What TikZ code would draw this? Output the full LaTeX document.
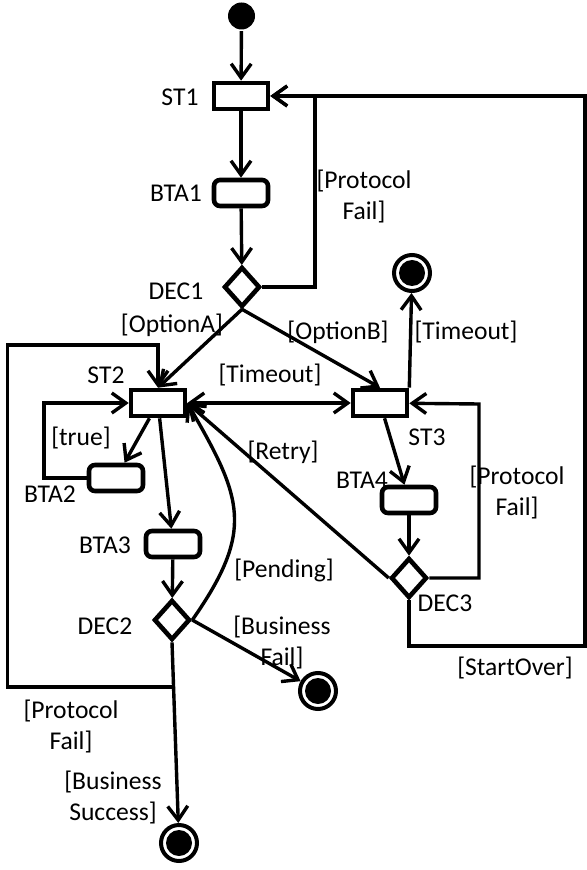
\documentclass[tikz,border=0pt]{standalone}
\usepackage{fontspec}
\setmainfont{Carlito}
\usetikzlibrary{arrows.meta,shapes.geometric}

\begin{document}
\begin{tikzpicture}[x=0.5pt, y=-0.5pt, line width=1.7pt, >={Straight Barb[length=7pt,width=10pt]},
 every node/.style={font=\fontsize{12.8}{15.5}\selectfont, align=center, inner sep=0pt},
 act/.style={draw, line width=2.3pt, minimum width=27pt, minimum height=13pt},
 bta/.style={act, rounded corners=3pt},
 dec/.style={draw, diamond, line width=2.3pt, minimum width=18pt, minimum height=20pt},
 start/.style={circle, fill, minimum size=13.5pt},
 final/.style={circle, draw, line width=2pt, minimum size=18pt,
   path picture={\fill (path picture bounding box.center) circle (6.5pt);}}]
 \useasboundingbox (0,0) rectangle (587,870);
 % states
 \node[start] (init) at (241.5,16) {};
 \node[act] (st1) at (241,96) {};
 \node[bta] (bta1) at (241,193) {};
 \node[dec] (dec1) at (242,287) {};
 \node[act] (st2) at (158,403) {};
 \node[act] (st3) at (380,403) {};
 \node[bta] (bta2) at (116,478) {};
 \node[bta] (bta3) at (173,544) {};
 \node[bta] (bta4) at (409,500) {};
 \node[dec] (dec2) at (172,620) {};
 \node[dec] (dec3) at (409,578) {};
 \node[final] (endT) at (412,273) {};
 \node[final] (endF) at (318,691) {};
 \node[final] (endS) at (179,843) {};
 % names
 \node (lst1) at (180,97) {ST1};
 \node (lbta1) at (176,193) {BTA1};
 \node (ldec1) at (176,291) {DEC1};
 \node (lst2) at (106,375) {ST2};
 \node (lst3) at (427,437) {ST3};
 \node (lbta2) at (50,494) {BTA2};
 \node (lbta3) at (105,545) {BTA3};
 \node (lbta4) at (362,480) {BTA4};
 \node (ldec2) at (105,626) {DEC2};
 \node (ldec3) at (445,603) {DEC3};
 % guards
 \node (gpf1) at (364,196) {[Protocol\\Fail]};
 \node (gopta) at (172,325) {[OptionA]};
 \node (goptb) at (338,332) {[OptionB]};
 \node (gto1) at (466,332) {[Timeout]};
 \node (gto2) at (270,375) {[Timeout]};
 \node (gtrue) at (81,438) {[true]};
 \node (gretry) at (283,452) {[Retry]};
 \node (gpf3) at (517,492) {[Protocol\\Fail]};
 \node (gpend) at (284,570) {[Pending]};
 \node (gbf) at (282,642) {[Business\\Fail]};
 \node (gso) at (515,668) {[StartOver]};
 \node (gpf2) at (71,726) {[Protocol\\Fail]};
 \node (gbs) at (113,797) {[Business\\Success]};
 % transitions
 \draw[->] (init) -- (st1);
 \draw[->] (st1) -- (bta1);
 \draw[->] (bta1) -- (dec1);
 \coordinate (c1) at (315,96);
 \draw[->] (dec1.east) -| (c1) -- (st1);
 \coordinate (c2) at (585,646);
 \draw[->] (dec3.south) |- (c2) |- (st1);
 \draw[->] (dec1.south) -- (st2.north);
 \draw[->] (dec1.south) -- (st3.north);
 \draw[<->] (st2) -- (st3);
 \draw[->] (st3.north east) -- (endT);
 \draw[->] (st3) -- (bta4);
 \draw[->] (bta4) -- (dec3);
 \coordinate (c3) at (479,404);
 \draw[->] (dec3.east) -| (c3) -- (st3);
 \draw[->] (dec3.west) -- (st2.east);
 \coordinate (c4) at (44,403);
 \draw[->] (bta2.west) -| (c4) -- (st2);
 \draw[->] (st2) -- (bta2);
 \draw[->] (st2) -- (bta3);
 \draw[->] (bta3) -- (dec2);
 \draw[->] (dec2.east) .. controls +(63,-90) and +(55,95) .. (st2.east);
 \draw[->] (dec2.east) -- (endF);
 \draw[->] (dec2.south) -- (endS);
 \coordinate (c5) at (173.5,687);
 \coordinate (c6) at (7.5,345);
 \draw[->] (c5) -| (c6) -| (st2.north);
\end{tikzpicture}
\end{document}
